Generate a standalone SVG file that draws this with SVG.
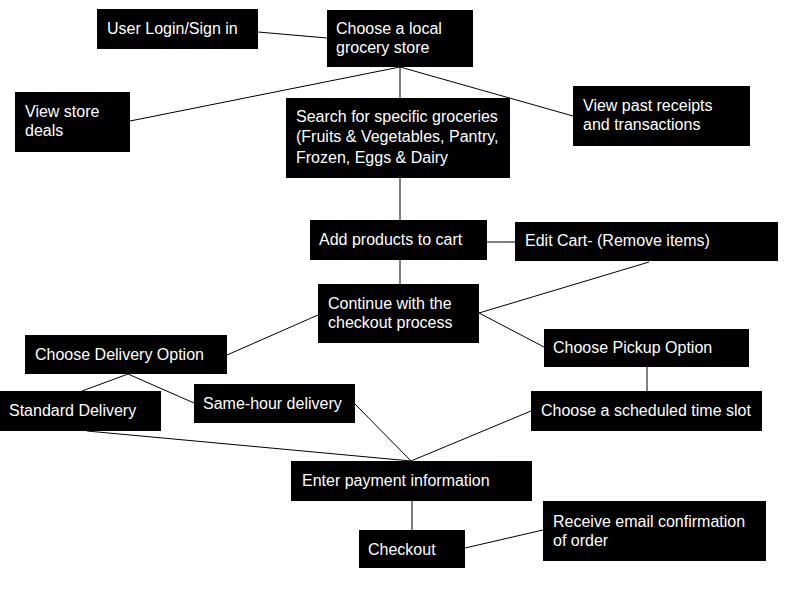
<svg xmlns="http://www.w3.org/2000/svg" width="800" height="600" viewBox="0 0 800 600">
<style>
.box{fill:#000}
text{font-family:"Liberation Sans",Arial,sans-serif;font-size:16px;fill:#fff}
.c line{stroke:#000;stroke-width:1}
</style>
<rect width="800" height="600" fill="#fff"/>
<g class="c" id="connectors">
<line x1="258" y1="32" x2="327" y2="38"/>
<line x1="400" y1="67" x2="130" y2="121"/>
<line x1="400" y1="67" x2="400" y2="98"/>
<line x1="400" y1="67" x2="573" y2="116"/>
<line x1="400" y1="178" x2="400" y2="220"/>
<line x1="487" y1="242" x2="515" y2="242"/>
<line x1="400" y1="260" x2="400" y2="284"/>
<line x1="479" y1="313" x2="649" y2="262"/>
<line x1="479" y1="313" x2="544" y2="347"/>
<line x1="318" y1="315" x2="227" y2="355"/>
<line x1="128" y1="374" x2="82" y2="391"/>
<line x1="128" y1="374" x2="194" y2="403"/>
<line x1="647" y1="367" x2="647" y2="391"/>
<line x1="355" y1="404" x2="411" y2="461"/>
<line x1="87" y1="431" x2="411" y2="461"/>
<line x1="531" y1="411" x2="411" y2="461"/>
<line x1="412" y1="501" x2="412" y2="530"/>
<line x1="465" y1="548" x2="543" y2="530"/>
</g>
<g id="login"><rect class="box" x="97" y="9" width="161" height="40"/><text x="107" y="34">User Login/Sign in</text></g>
<g id="store"><rect class="box" x="327" y="10" width="146" height="57"/><text x="336" y="34">Choose a local</text><text x="336" y="53">grocery store</text></g>
<g id="deals"><rect class="box" x="15" y="92" width="115" height="60"/><text x="25" y="117">View store</text><text x="25" y="136">deals</text></g>
<g id="search"><rect class="box" x="286" y="98" width="224" height="80"/><text x="296" y="122">Search for specific groceries</text><text x="296" y="142">(Fruits &amp; Vegetables, Pantry,</text><text x="296" y="163">Frozen, Eggs &amp; Dairy</text></g>
<g id="receipts"><rect class="box" x="573" y="86" width="177" height="60"/><text x="583" y="111">View past receipts</text><text x="583" y="130">and transactions</text></g>
<g id="add"><rect class="box" x="310" y="220" width="177" height="40"/><text x="319" y="245">Add products to cart</text></g>
<g id="edit"><rect class="box" x="515" y="222" width="263" height="39"/><text x="525" y="246">Edit Cart- (Remove items)</text></g>
<g id="continue"><rect class="box" x="318" y="284" width="161" height="59"/><text x="328" y="309">Continue with the</text><text x="328" y="328">checkout process</text></g>
<g id="delivery"><rect class="box" x="25" y="335" width="202" height="39"/><text x="35" y="360">Choose Delivery Option</text></g>
<g id="pickup"><rect class="box" x="544" y="329" width="205" height="38"/><text x="553" y="353">Choose Pickup Option</text></g>
<g id="standard"><rect class="box" x="0" y="391" width="161" height="40"/><text x="9" y="416">Standard Delivery</text></g>
<g id="samehour"><rect class="box" x="194" y="384" width="161" height="39"/><text x="203" y="409">Same-hour delivery</text></g>
<g id="slot"><rect class="box" x="531" y="391" width="231" height="40"/><text x="541" y="416">Choose a scheduled time slot</text></g>
<g id="payment"><rect class="box" x="291" y="461" width="241" height="40"/><text x="302" y="486">Enter payment information</text></g>
<g id="checkout"><rect class="box" x="359" y="530" width="106" height="38"/><text x="368" y="555">Checkout</text></g>
<g id="email"><rect class="box" x="543" y="501" width="223" height="60"/><text x="553" y="527">Receive email confirmation</text><text x="553" y="546">of order</text></g>
</svg>
